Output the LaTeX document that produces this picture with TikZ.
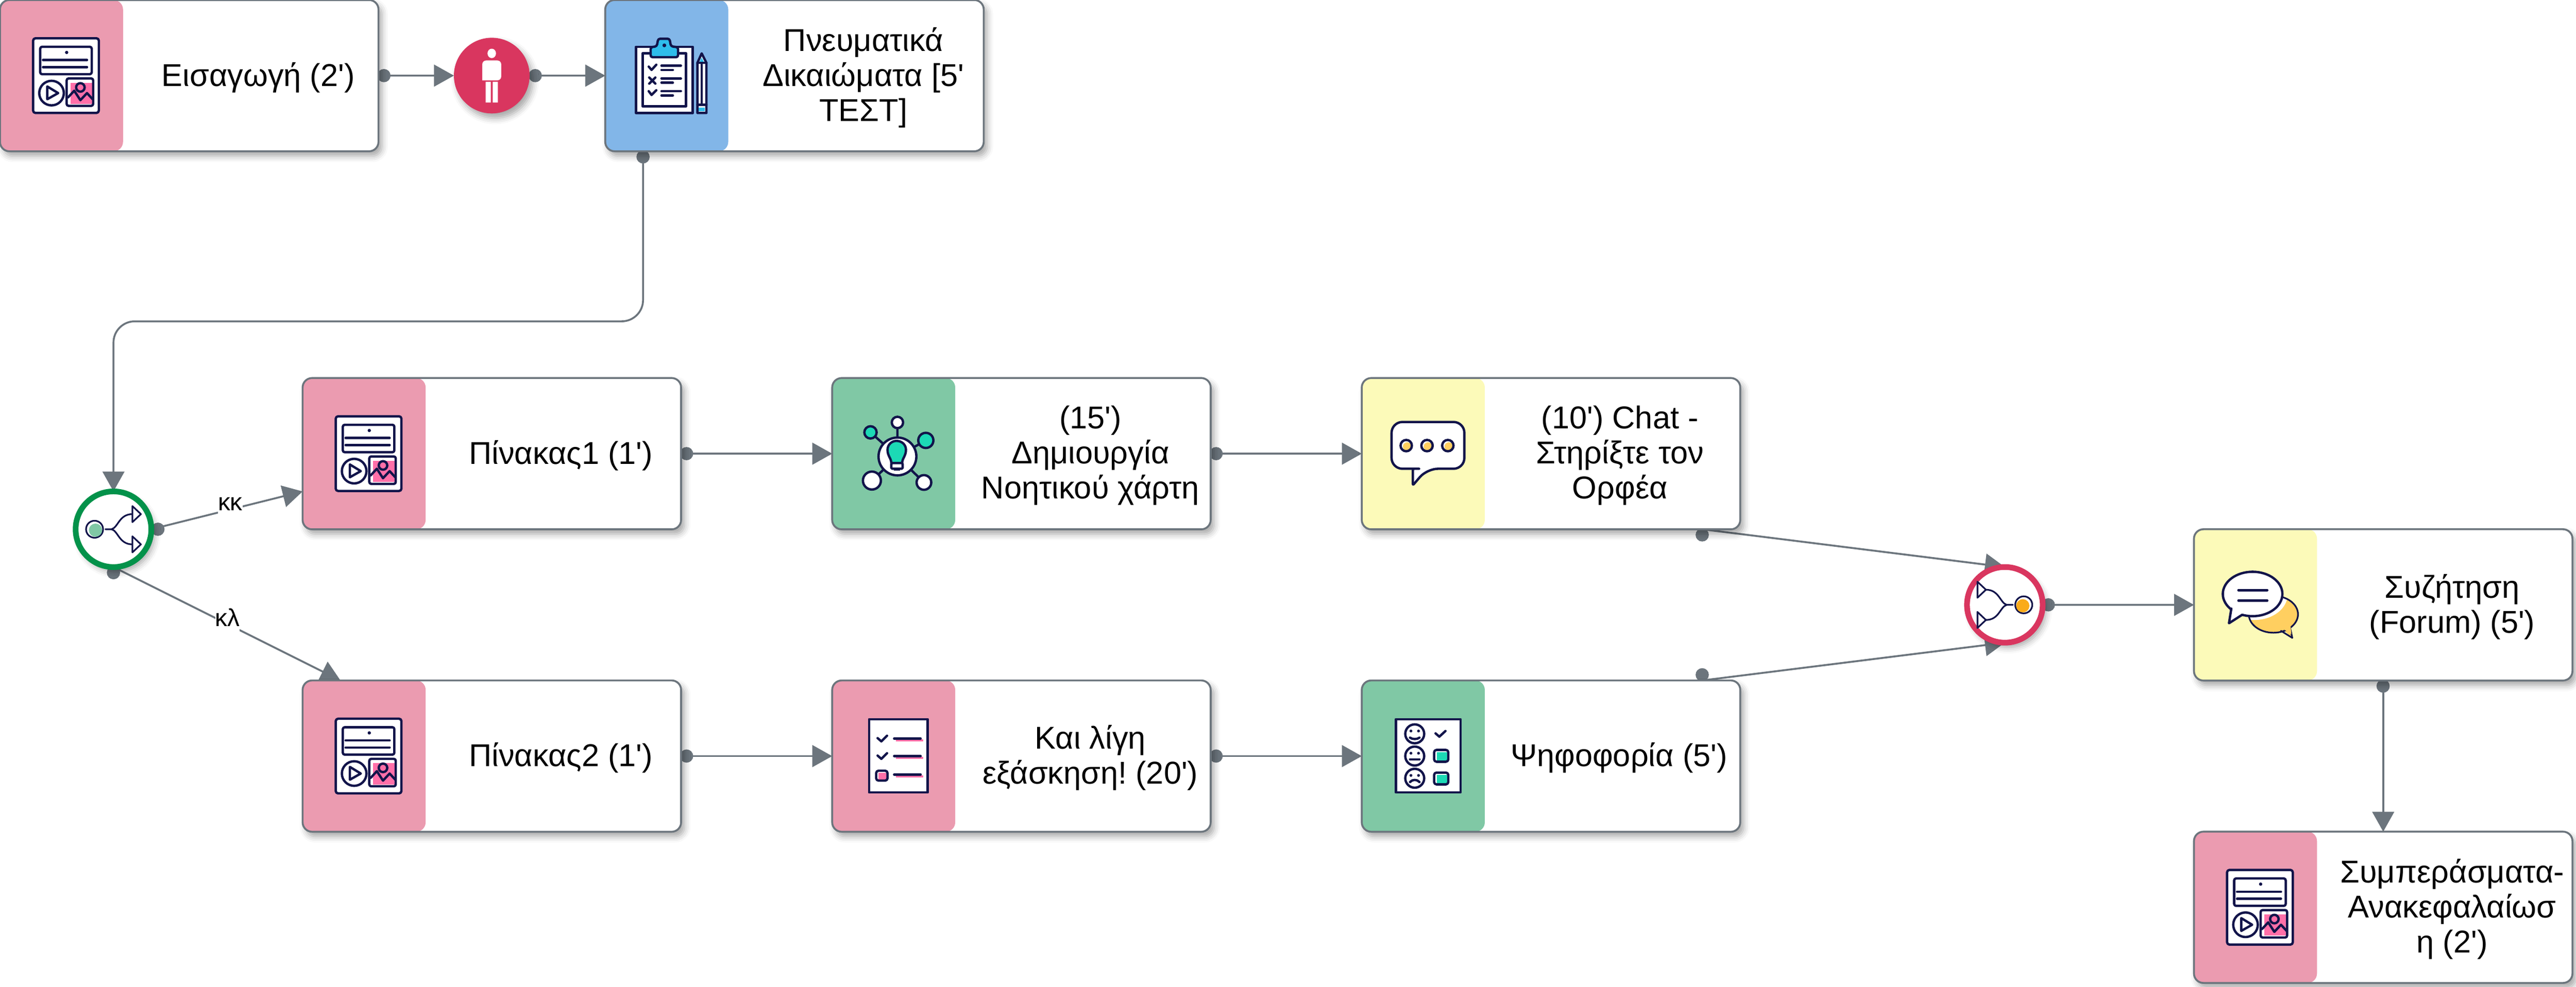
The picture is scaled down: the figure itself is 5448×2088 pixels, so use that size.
\documentclass[tikz,border=0pt]{standalone}
\usepackage{fontspec}
\setmainfont{Liberation Sans}[Ligatures=TeXOff]
\usetikzlibrary{arrows.meta,backgrounds,shadows.blur}
\definecolor{flowgray}{HTML}{6C757D}
\definecolor{iconnavy}{HTML}{12144A}
\definecolor{stripred}{HTML}{EB9BB0}
\definecolor{stripblue}{HTML}{82B6E8}
\definecolor{stripgreen}{HTML}{80C8A5}
\definecolor{stripyellow}{HTML}{FCFAB9}
\definecolor{iconpink}{HTML}{FF6FA8}
\definecolor{iconteal}{HTML}{1CD9B5}
\definecolor{iconsky}{HTML}{2EBDEB}
\definecolor{iconamber}{HTML}{FFCF60}
\definecolor{iconorange}{HTML}{FAAB1A}
\definecolor{gatered}{HTML}{D9365F}
\definecolor{gategreen}{HTML}{03924A}
\tikzset{
softshadow/.style={blur shadow={shadow xshift=0.07cm,shadow yshift=-0.1cm,shadow blur radius=0.13cm,shadow opacity=35}},
flowbox/.style={rectangle,rounded corners=0.2cm,draw=flowgray,line width=0.04cm,fill=white,outer sep=0pt,
  minimum width=8cm,minimum height=3.2cm,anchor=north west,softshadow,
  path picture={\fill[#1] (path picture bounding box.north west) rectangle ([xshift=2.6cm]path picture bounding box.south west);}},
boxtext/.style={align=center,inner sep=0pt,yshift=-0.04cm,font=\fontsize{19pt}{21.05pt}\selectfont\frenchspacing},
edgetext/.style={anchor=base,fill=white,inner sep=0pt,text height=0.34cm,text depth=0.12cm,font=\fontsize{14.8pt}{16pt}\selectfont},
flowdot/.style={circle,fill=flowgray,inner sep=0pt,minimum size=0.28cm},
flowarrow/.style={draw=flowgray,line width=0.04cm,-{Triangle[length=0.42cm,width=0.46cm]}},
gatering/.style={circle,draw=#1,line width=0.12cm,fill=white,minimum size=1.6cm,inner sep=0pt,outer sep=0pt,softshadow},
iconline/.style={draw=iconnavy,line width=0.05cm,line join=round,line cap=round},
iconthin/.style={draw=iconnavy,line width=0.035cm,line join=round,line cap=round},
pics/pageicon/.style={code={
  \draw[iconline,fill=white,rounded corners=0.05cm] (70,81) rectangle (209,239);
  \draw[iconline,rounded corners=0.04cm] (85,99) rectangle (194,157);
  \fill[iconnavy] (141,111) circle[radius=3.5];
  \draw[iconline] (91,127) -- (184,127) (91,142) -- (184,142);
  \draw[iconline] (109,197) circle[radius=26];
  \draw[iconline] (100,183) -- (123,197) -- (100,210) -- cycle;
  \fill[iconpink] (149,175) rectangle (195,220);
  \draw[iconline,rounded corners=0.04cm] (141,166) rectangle (197,224);
  \draw[iconline] (170,185) circle[radius=9];
  \draw[iconline] (144,206) -- (157,192) -- (170,212) -- (184,197) -- (196,210);
}},
pics/gateicon/.style={code={
  \draw[iconthin,fill=white] (-40,0) circle[radius=18];
  \fill[#1] (-38,2) circle[radius=14];
  \draw[iconthin] (-17,0) -- (-4,0) .. controls (10,-4) and (12,-32) .. (40,-32);
  \draw[iconthin] (-4,0) .. controls (10,4) and (12,32) .. (40,32);
}}
}
\begin{document}
\begin{tikzpicture}[x=0.01cm,y=-0.01cm]
\useasboundingbox (0,0) rectangle (5448,2088);
\node[flowbox=stripred] (intro) at (0,0) {};
\node[flowbox=stripblue] (rights) at (1280,0) {};
\node[flowbox=stripred] (boardone) at (640,800) {};
\node[flowbox=stripgreen] (mindmap) at (1760,800) {};
\node[flowbox=stripyellow] (chat) at (2880,800) {};
\node[flowbox=stripred] (boardtwo) at (640,1440) {};
\node[flowbox=stripred] (practice) at (1760,1440) {};
\node[flowbox=stripgreen] (vote) at (2880,1440) {};
\node[flowbox=stripyellow] (forum) at (4640,1120) {};
\node[flowbox=stripred] (summary) at (4640,1760) {};
\node[boxtext] (introtext) at (546,160) {Εισαγωγή (2')};
\node[boxtext] (rightstext) at (1826,160) {Πνευματικά\\Δικαιώματα [5'\\ΤΕΣΤ]};
\node[boxtext] (boardonetext) at (1186,960) {Πίνακας1 (1')};
\node[boxtext] (mindmaptext) at (2306,960) {(15')\\Δημιουργία\\Νοητικού χάρτη};
\node[boxtext] (chattext) at (3426,960) {(10') Chat -\\Στηρίξτε τον\\Ορφέα};
\node[boxtext] (boardtwotext) at (1186,1600) {Πίνακας2 (1')};
\node[boxtext] (practicetext) at (2306,1600) {Και λίγη\\εξάσκηση! (20')};
\node[boxtext] (votetext) at (3424,1600) {Ψηφοφορία (5')};
\node[boxtext] (forumtext) at (5186,1280) {Συζήτηση\\(Forum) (5')};
\node[boxtext] (summarytext) at (5186,1920) {Συμπεράσματα-\\Ανακεφαλαίωσ\\η (2')};
\node[circle,fill=gatered,minimum size=1.6cm,inner sep=0pt,outer sep=0pt,softshadow] (learner) at (1040,160) {};
\node[gatering=gategreen] (split) at (240,1120) {};
\node[gatering=gatered] (join) at (4240,1280) {};
\coordinate (rightsout) at (1360,320);
\coordinate (boardonein) at (640,1040);
\coordinate (boardtwoin) at (720,1440);
\coordinate (chatout) at (3600,1120);
\coordinate (voteout) at (3600,1440);
\begin{pgfonlayer}{background}
\draw[flowarrow] (intro.east) -- (learner.west);
\draw[flowarrow] (learner.east) -- (rights.west);
\draw[flowarrow,rounded corners=0.45cm] (rightsout) -- ++(0,360) -| (split.north);
\draw[flowarrow] (split.east) -- (boardonein);
\draw[flowarrow] (split.south) -- (boardtwoin);
\draw[flowarrow] (boardone.east) -- (mindmap.west);
\draw[flowarrow] (mindmap.east) -- (chat.west);
\draw[flowarrow] (boardtwo.east) -- (practice.west);
\draw[flowarrow] (practice.east) -- (vote.west);
\draw[flowarrow] (chatout) -- (join.north);
\draw[flowarrow] (voteout) -- (join.south);
\draw[flowarrow] (join.east) -- (forum.west);
\draw[flowarrow] (forum.south) -- (summary.north);
\node[flowdot] (introdot) at (812,160) {};
\node[flowdot] (learnerdot) at (1132,160) {};
\node[flowdot] (rightsdot) at (1360,332) {};
\node[flowdot] (splitdot) at (334,1120) {};
\node[flowdot] (splitdotb) at (240,1212) {};
\node[flowdot] (boardonedot) at (1452,960) {};
\node[flowdot] (mindmapdot) at (2572,960) {};
\node[flowdot] (chatdot) at (3600,1132) {};
\node[flowdot] (boardtwodot) at (1452,1600) {};
\node[flowdot] (practicedot) at (2572,1600) {};
\node[flowdot] (votedot) at (3600,1428) {};
\node[flowdot] (joindot) at (4332,1280) {};
\node[flowdot] (forumdot) at (5040,1452) {};
\end{pgfonlayer}
\node[edgetext] (kk) at (487,1080) {κκ};
\node[edgetext] (kl) at (481,1326) {κλ};
\pic at (0,0) {pageicon};
\pic at (640,800) {pageicon};
\pic at (640,1440) {pageicon};
\pic at (4640,1760) {pageicon};
\pic at (240,1120) {gateicon=stripgreen};
\pic[xscale=-1] at (4240,1280) {gateicon=iconorange};
\foreach \rowy in {-32,32} {
  \draw[iconthin,fill=white] (280,1120+\rowy-17) -- (298,1120+\rowy) -- (280,1120+\rowy+17) -- cycle;
  \draw[iconthin,fill=white] (4182,1280+\rowy-17) -- (4200,1280+\rowy) -- (4182,1280+\rowy+17) -- cycle;
}
\begin{scope}[shift={(1040,160)}]
\fill[white] (0,-47) ellipse[x radius=9,y radius=10];
\fill[white,rounded corners=0.08cm] (-20,10) -- (-20,-32) -- (20,-32) -- (20,10) [sharp corners] -- cycle;
\fill[white] (-13,13) rectangle (-2,57) (2,13) rectangle (13,57);
\end{scope}
\begin{scope}[shift={(1280,0)}]
\draw[iconline,fill=white] (65,99) rectangle (185,239);
\draw[iconline,fill=white] (79,113) rectangle (171,225);
\draw[iconline,fill=iconsky,rounded corners=0.04cm] (96,121) -- (96,100) -- (109,98) -- (112,82) -- (136,82) -- (139,98) -- (154,100) -- (154,121) -- cycle;
\fill[iconnavy] (125,96) circle[radius=4];
\draw[iconline] (92,141) -- (98,148) -- (108,137);
\draw[iconline] (119,139) -- (160,139) (119,148) -- (143,148);
\draw[iconline] (93,164) -- (106,177) (106,164) -- (93,177);
\draw[iconline] (119,166) -- (160,166) (119,175) -- (143,175);
\draw[iconline] (92,193) -- (98,201) -- (108,191);
\draw[iconline] (119,193) -- (160,193) (119,202) -- (143,202);
\draw[iconline,fill=white] (195,133) -- (204,113) -- (214,133) -- (214,239) -- (195,239) -- cycle;
\fill[iconsky] (199,132) -- (204,122) -- (209,132) -- cycle;
\draw[iconline] (195,133) -- (214,133) (195,222) -- (214,222);
\draw[iconthin] (204,133) -- (204,222);
\fill[iconsky] (198,228) rectangle (211,235);
\end{scope}
\begin{scope}[shift={(1760,800)}]
\draw[iconline] (138,166) -- (138,94) (138,166) -- (81,115) (138,166) -- (198,132) (138,166) -- (84,217) (138,166) -- (194,221);
\draw[iconline,fill=white] (138,94) circle[radius=12];
\draw[iconline,fill=iconteal] (81,115) circle[radius=13];
\draw[iconline,fill=iconteal] (198,132) circle[radius=16];
\draw[iconline,fill=white] (84,217) circle[radius=19];
\draw[iconline,fill=white] (194,221) circle[radius=15.5];
\draw[iconline,fill=white] (138,166) circle[radius=40];
\draw[iconline,fill=iconteal] (125,180) .. controls (125,170) and (117,165) .. (117,152) .. controls (117,140) and (127,133) .. (136,133) .. controls (146,133) and (156,140) .. (156,152) .. controls (156,165) and (148,170) .. (148,180) -- cycle;
\draw[iconline,fill=white,rounded corners=0.02cm] (125,180) rectangle (149,192);
\fill[iconnavy] (130,192) rectangle (143,196);
\end{scope}
\begin{scope}[shift={(2880,800)}]
\draw[iconline,fill=white,rounded corners=0.23cm] (123,192) -- (63,192) -- (63,93) -- (217,93) -- (217,192) -- (138,192) [rounded corners=0.03cm] -- (108,227) -- (108,192) -- cycle;
\foreach \dotx in {94,138,182} {
  \fill[iconamber] (\dotx+2,145) circle[radius=9];
  \draw[iconline] (\dotx,143) circle[radius=12];
}
\end{scope}
\begin{scope}[shift={(1760,1440)}]
\draw[iconline,fill=white] (78,82) rectangle (202,237);
\foreach \rowy in {123,160} {
  \draw[iconline] (96,\rowy-1) -- (104,\rowy+6) -- (116,\rowy-6);
}
\foreach \rowy in {123,160,199} {
  \draw[iconpink,line width=0.05cm] (135,\rowy+4) -- (192,\rowy+4);
  \draw[iconline] (131,\rowy) -- (187,\rowy);
}
\fill[iconpink] (98,196) rectangle (115,210);
\draw[iconline,rounded corners=0.05cm] (93,191) rectangle (117,212);
\end{scope}
\begin{scope}[shift={(2880,1440)}]
\draw[iconline,fill=white] (72,82) rectangle (209,237);
\foreach \rowy in {113,160,207} {
  \draw[iconline] (112,\rowy) circle[radius=20];
  \fill[iconnavy] (104,\rowy-6) circle[radius=3] (120,\rowy-6) circle[radius=3];
}
\draw[iconline] (102,121) .. controls (107,125) and (117,125) .. (122,121);
\draw[iconline] (102,167) -- (122,167);
\draw[iconline] (102,215) .. controls (107,209) and (117,209) .. (122,215);
\draw[iconline] (156,112) -- (164,119) -- (177,107);
\foreach \rowy in {147,195} {
  \fill[iconteal] (159,\rowy+5) rectangle (181,\rowy+23);
  \draw[iconline,rounded corners=0.05cm] (153,\rowy) rectangle (183,\rowy+25);
}
\end{scope}
\begin{scope}[shift={(4640,1120)}]
\begin{scope}
\clip (168,180) ellipse[x radius=52,y radius=39];
\fill[iconamber] (168,180) ellipse[x radius=52,y radius=39];
\fill[white] (128,138) ellipse[x radius=70,y radius=54];
\end{scope}
\fill[iconamber] (198,210) -- (208,230) -- (190,213) -- cycle;
\draw[iconthin] (203,207) -- (208,230) -- (184,215);
\draw[iconthin] (168,180) ellipse[x radius=52,y radius=39];
\fill[iconamber] (195,208) -- (204,202) -- (206,222) -- (190,212) -- cycle;
\draw[iconline,fill=white] (124,137) ellipse[x radius=63,y radius=47];
\fill[white] (82,162) -- (76,196) -- (104,178) -- cycle;
\draw[iconline] (79,168) -- (74,199) -- (102,181);
\draw[iconline] (94,129) -- (155,129) (94,151) -- (155,151);
\end{scope}
\end{tikzpicture}
\end{document}
